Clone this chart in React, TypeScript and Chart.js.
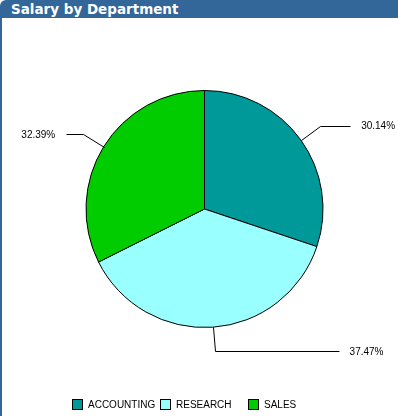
import React, { useEffect, useRef } from "react";
import { Chart, registerables } from "chart.js";

Chart.register(...registerables);

const departments = ["ACCOUNTING", "RESEARCH", "SALES"];
const salaryShare = [30.14, 37.47, 32.39];
const sliceColors = ["#009999", "#99ffff", "#00cc00"];
const percentLabels = ["30.14%", "37.47%", "32.39%"];

const leaderPlugin = {
  id: "leaders",
  afterDraw(chart: any, _args: any, opts: any) {
    const ctx = chart.ctx;
    const meta = chart.getDatasetMeta(0);
    const labels: string[] = opts.labels;
    const hLens: number[] = opts.hLens;
    ctx.save();
    ctx.strokeStyle = "#000";
    ctx.lineWidth = 1;
    ctx.fillStyle = "#000";
    ctx.font = "10px 'Liberation Sans', Arial, sans-serif";
    ctx.textBaseline = "middle";
    meta.data.forEach((arc: any, i: number) => {
      const { x, y, startAngle, endAngle, outerRadius } = arc.getProps(
        ["x", "y", "startAngle", "endAngle", "outerRadius"],
        true
      );
      const mid = (startAngle + endAngle) / 2;
      const cx = Math.cos(mid);
      const cy = Math.sin(mid);
      const ex = x + cx * outerRadius;
      const ey = y + cy * outerRadius;
      const ext = opts.ext;
      const bx = ex + cx * ext;
      const by = ey + cy * ext;
      const right = cx >= 0;
      const endX = right ? bx + hLens[i] : bx - hLens[i];
      ctx.beginPath();
      ctx.moveTo(Math.round(ex) + 0.5, Math.round(ey) + 0.5);
      ctx.lineTo(Math.round(bx) + 0.5, Math.round(by) + 0.5);
      ctx.lineTo(Math.round(endX) + 0.5, Math.round(by) + 0.5);
      ctx.stroke();
      ctx.textAlign = right ? "left" : "right";
      ctx.fillText(labels[i], right ? endX + opts.gap : endX - opts.gap, by + 1);
    });
    ctx.restore();
  },
};

const legendPlugin = {
  id: "fixedLegend",
  afterDraw(chart: any, _args: any, opts: any) {
    const ctx = chart.ctx;
    const labels = chart.data.labels as string[];
    const colors = chart.data.datasets[0].backgroundColor as string[];
    ctx.save();
    ctx.font = "10px 'Liberation Sans', Arial, sans-serif";
    ctx.textBaseline = "middle";
    ctx.textAlign = "left";
    labels.forEach((lab, i) => {
      const bx = opts.x + i * opts.col;
      const by = opts.y;
      ctx.fillStyle = colors[i];
      ctx.fillRect(bx, by, 11, 11);
      ctx.strokeStyle = "#000";
      ctx.lineWidth = 1;
      ctx.strokeRect(bx + 0.5, by + 0.5, 10, 10);
      ctx.fillStyle = "#000";
      ctx.fillText(lab, bx + 16, by + 6);
    });
    ctx.restore();
  },
};

export default function App() {
  const ref = useRef<HTMLCanvasElement | null>(null);
  useEffect(() => {
    if (!ref.current) return;
    const chart = new Chart(ref.current, {
      type: "pie",
      data: {
        labels: departments,
        datasets: [
          {
            data: salaryShare,
            backgroundColor: sliceColors,
            borderColor: "#000000",
            borderWidth: 1,
          },
        ],
      },
      options: {
        animation: false,
        responsive: false,
        devicePixelRatio: 1,
        layout: { padding: { left: 40, right: 31, top: 72, bottom: 88 } },
        plugins: {
          legend: { display: false },
          tooltip: { enabled: false },
          leaders: {
            labels: percentLabels,
            hLens: [30, 124, 17],
            ext: 24,
            gap: 11,
          },
          fixedLegend: { x: 70, y: 381, col: 88 },
        } as any,
      },
      plugins: [leaderPlugin, legendPlugin],
    });
    return () => chart.destroy();
  }, []);

  return (
    <div
      style={{
        position: "absolute",
        left: 0,
        top: 0,
        width: 398,
        height: 416,
        background: "#fff",
        overflow: "hidden",
      }}
    >
      <div
        style={{
          height: 18,
          background: "#336699",
          color: "#fff",
          font: "bold 13.5px 'DejaVu Sans', Verdana, sans-serif",
          lineHeight: "18px",
          paddingLeft: 11,
          borderTopLeftRadius: 6,
          whiteSpace: "nowrap",
        }}
      >
        Salary by Department
      </div>
      <div
        style={{
          borderLeft: "2px solid #336699",
          height: 398,
          width: 396,
        }}
      >
        <canvas ref={ref} width={396} height={398} style={{ display: "block" }} />
      </div>
    </div>
  );
}
